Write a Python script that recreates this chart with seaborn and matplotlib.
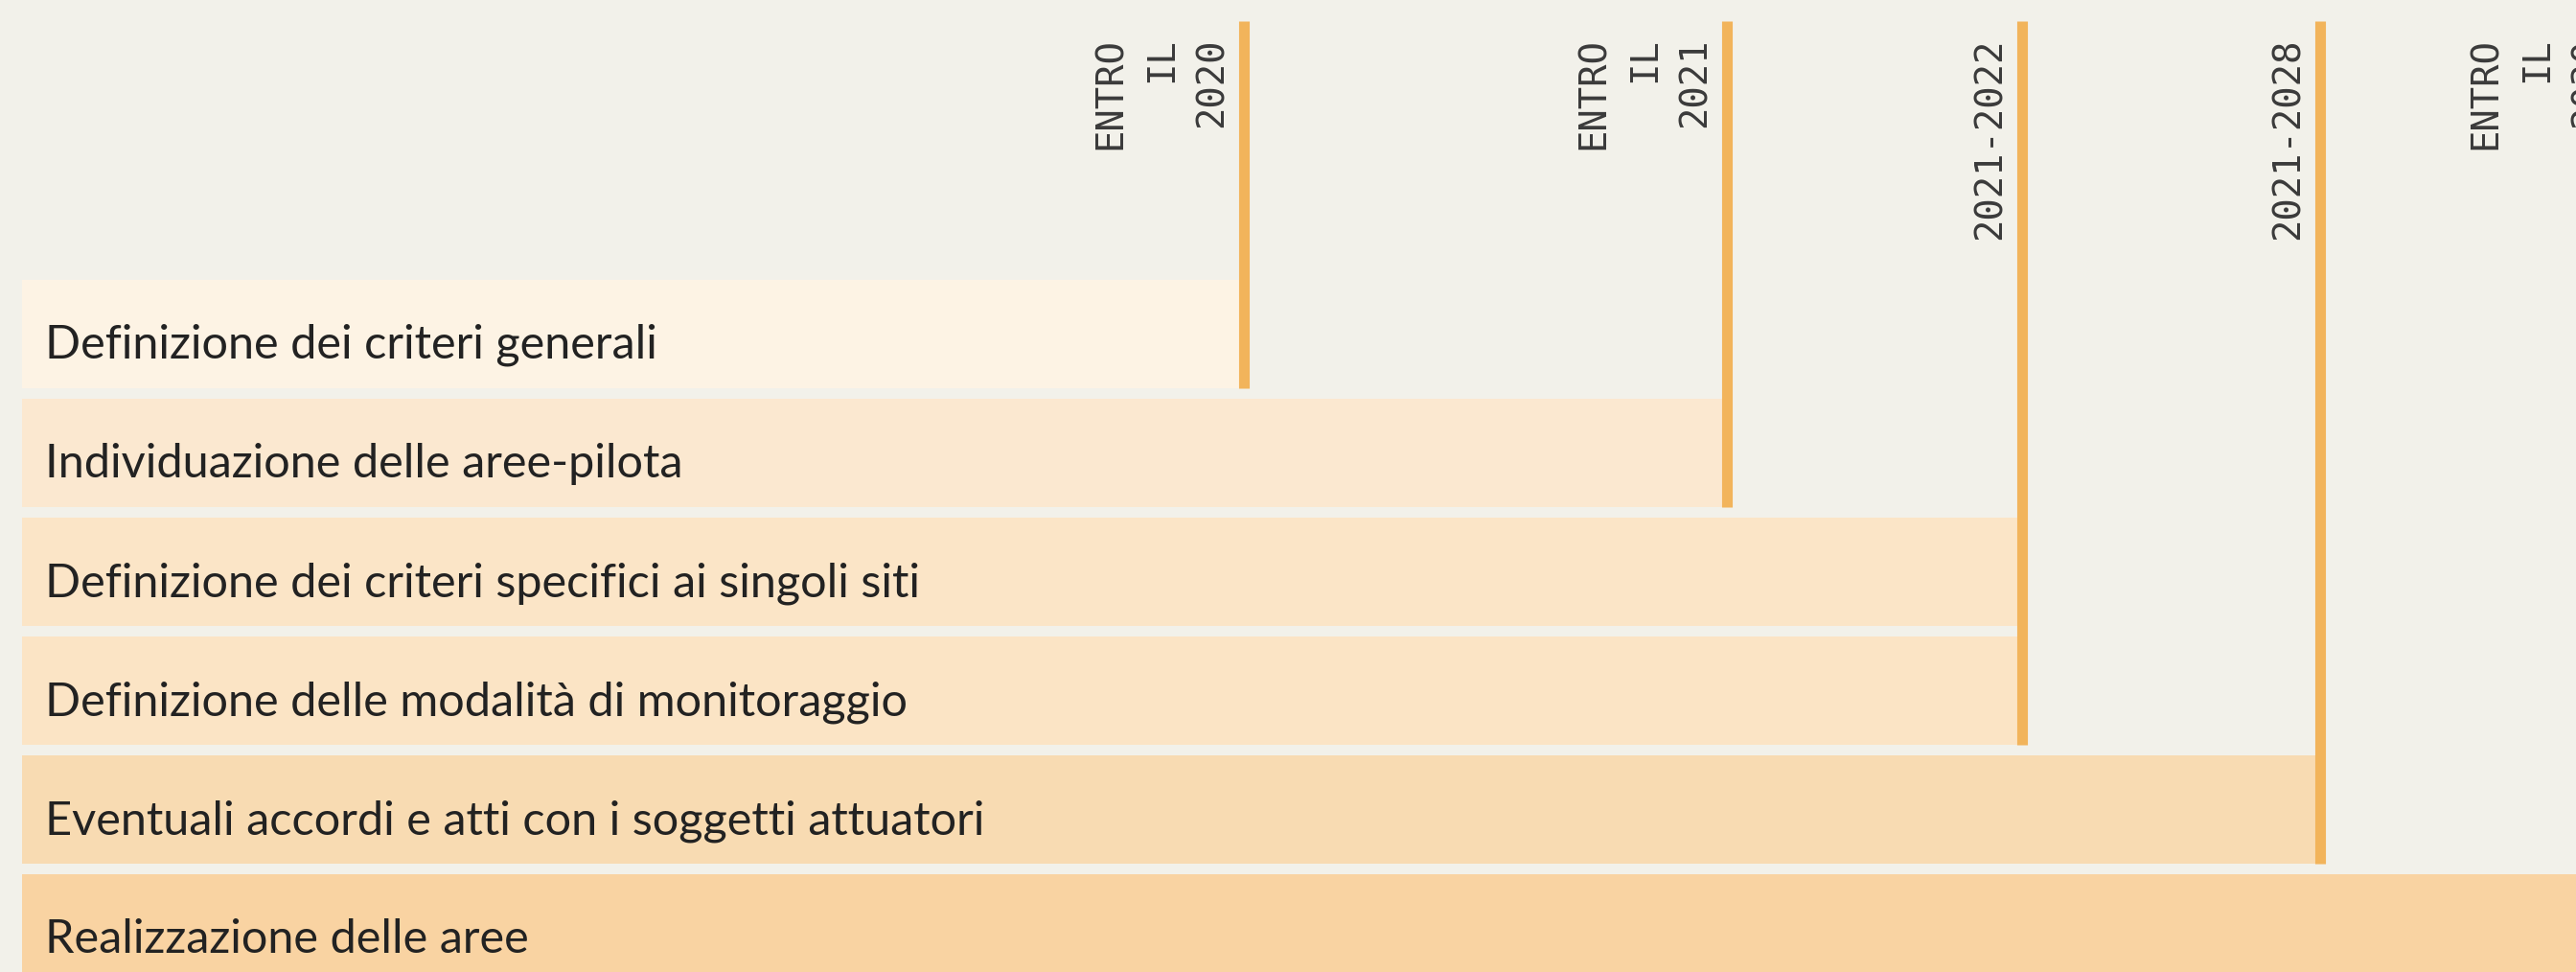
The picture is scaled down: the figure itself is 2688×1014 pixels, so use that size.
import numpy as np
import pandas as pd
import matplotlib
matplotlib.use("Agg")
import matplotlib.pyplot as plt
import seaborn as sns

# data (x in timeline units, 0 = start of bars)
tasks = [
    "Definizione dei criteri generali",
    "Individuazione delle aree-pilota",
    "Definizione dei criteri specifici ai singoli siti",
    "Definizione delle modalità di monitoraggio",
    "Eventuali accordi e atti con i soggetti attuatori",
    "Realizzazione delle aree",
]
task_end = [1275, 1779, 2087, 2087, 2398, 2710]

milestones = ["ENTRO\nIL\n2020", "ENTRO\nIL\n2021", "2021-2022", "2021-2028", "ENTRO\nIL\n2030"]
milestone_x = [1275, 1779, 2087, 2398, 2710]
milestone_last_row = [0, 1, 3, 4, 5]

bar_colors = ["#FDF3E4", "#FBE8D0", "#FBE5C7", "#FBE4C5", "#F8DBB2", "#F9D3A2"]
BG = "#F2F1EA"
LINE = "#F2B45B"

df = pd.DataFrame({"task": tasks, "end": task_end})

sns.set_theme(style="white")
plt.rcParams["font.family"] = ["Lato", "DejaVu Sans"]

fig = plt.figure(figsize=(26.88, 10.14), dpi=100, facecolor=BG)
ax = fig.add_axes([0, 0, 1, 1])
ax.set_facecolor(BG)

sns.barplot(data=df, x="end", y="task", hue="task", palette=bar_colors,
            orient="h", width=0.91, saturation=1, linewidth=0,
            legend=False, ax=ax)

# milestone lines
half = 0.91 / 2
for mx, last in zip(milestone_x, milestone_last_row):
    ax.vlines(mx, -2.631, last + half, color=LINE, linewidth=8, zorder=3)

# milestone labels, rotated
for lab, mx in zip(milestones, milestone_x):
    ax.text(mx - 14, -2.49, lab, rotation=90, ha="right", va="top",
            multialignment="right", family="DejaVu Sans Mono", fontsize=28,
            color="#3a3a3a", linespacing=1.5)

# task labels inside the bars
for i, t in enumerate(tasks):
    ax.text(24, i + 0.06, t, ha="left", va="center_baseline", fontsize=35,
            color="#222222")

ax.set_xlim(-23, 2665)
ax.set_ylim(5.363, -2.808)
ax.set_xlabel("")
ax.set_ylabel("")
ax.set_xticks([])
ax.set_yticks([])
sns.despine(ax=ax, left=True, bottom=True)

fig.savefig("out.png", dpi=100, facecolor=BG)
